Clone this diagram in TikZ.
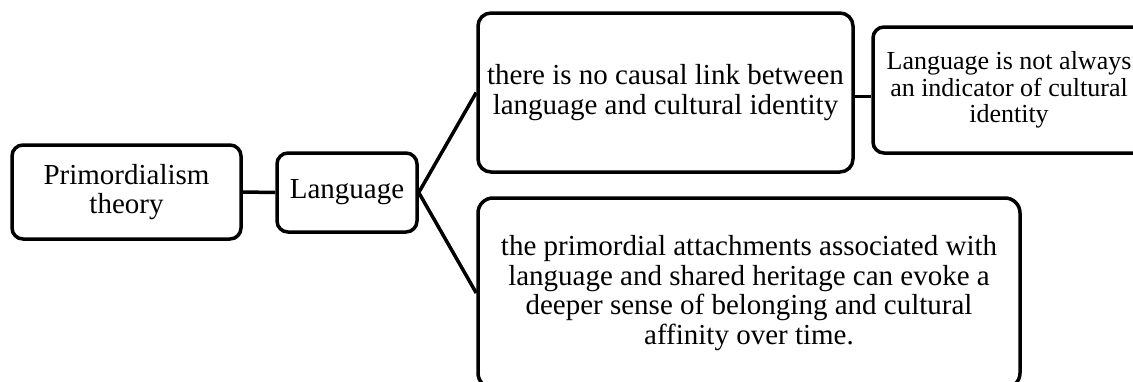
\documentclass[tikz,border=0pt]{standalone}
\usepackage{fontspec}
\setmainfont{Liberation Serif}
\begin{document}
\begin{tikzpicture}[x=1pt,y=-1pt,
  box/.style={draw=black, line width=3.5pt, rounded corners=11pt, inner sep=0pt, align=center, fill=white},
  bigfont/.style={font=\fontsize{29}{29.5}\selectfont},
  smallfont/.style={font=\fontsize{26}{26.5}\selectfont},
  link/.style={draw=black, line width=3.5pt}]
\useasboundingbox (0,0) rectangle (1133,381);
\node[box, bigfont, minimum width=229pt, minimum height=94pt] (p) at (126.5,192) {Primordialism\\theory};
\node[box, bigfont, minimum width=140pt, minimum height=79pt] (lang) at (347,192.5) {Language};
\node[box, bigfont, minimum width=375pt, minimum height=159pt, rounded corners=13pt] (top) at (665.5,92.5) {there is no causal link between\\language and cultural identity};
\node[box, bigfont, minimum width=542pt, minimum height=190pt, rounded corners=15pt] (bot) at (749,293) {the primordial attachments associated with\\language and shared heritage can evoke a\\deeper sense of belonging and cultural\\affinity over time.};
\node[box, smallfont, minimum width=272pt, minimum height=126pt] (side) at (1009,90) {Language is not always\\an indicator of cultural\\identity};
\draw[link] (p.east) -- (lang.west);
\draw[link] (lang.east) -- (top.west);
\draw[link] (lang.east) -- (bot.west);
\draw[link] ([yshift=-4pt]top.east) -- ([yshift=-4pt]top.east -| side.west);
\end{tikzpicture}
\end{document}
